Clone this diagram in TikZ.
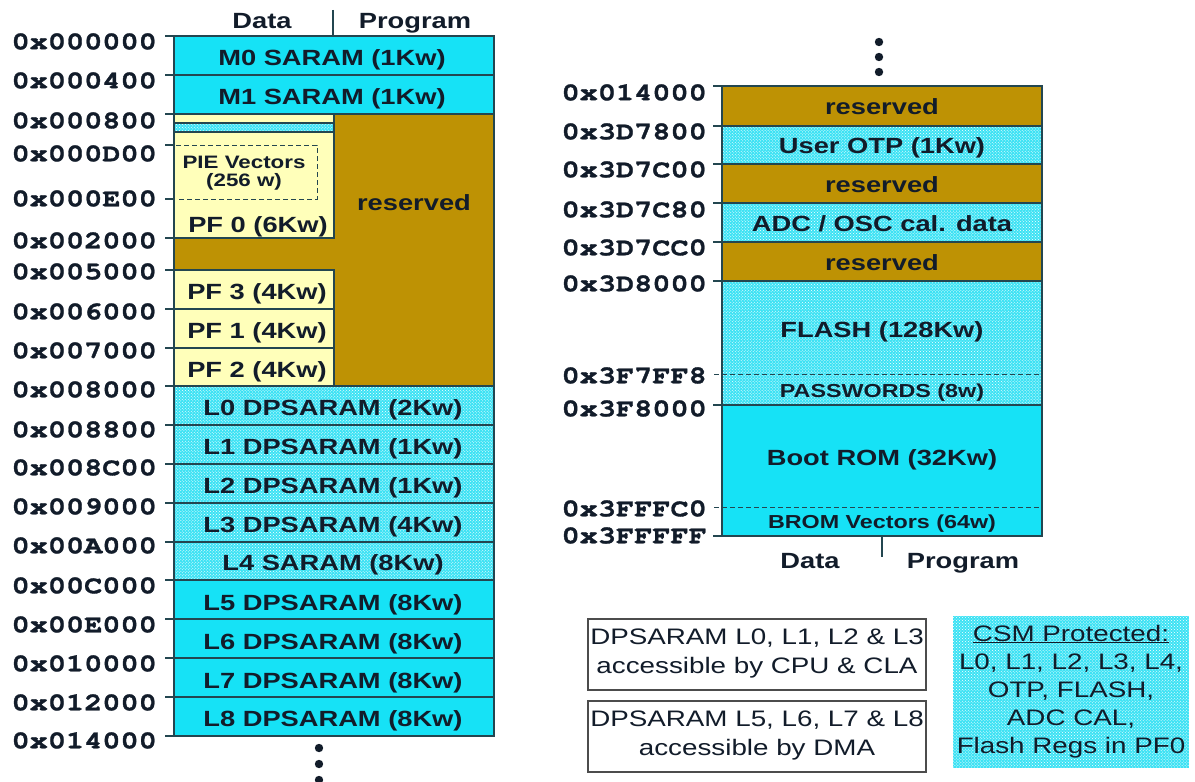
\documentclass[tikz,border=0pt]{standalone}
\usepackage{fontspec}
\usetikzlibrary{patterns}
\setmainfont{Liberation Sans}
\newfontfamily\sansX[FakeStretch=1.24]{Liberation Sans}
\newfontfamily\cursorX[FakeStretch=1.21,FakeBold=1.3]{texgyrecursor-bold.otf}
\newcommand\mylblfont{\sansX\bfseries\fontsize{22bp}{26bp}\selectfont}
\newcommand\mylblsmall{\sansX\bfseries\fontsize{18.8bp}{22bp}\selectfont}
\newcommand\mypiefont{\sansX\bfseries\fontsize{18bp}{21bp}\selectfont}
\newcommand\mynotefont{\sansX\fontsize{22.4bp}{27bp}\selectfont}
\newcommand\myaddrfont{\cursorX\fontsize{25bp}{28bp}\selectfont}
\definecolor{cyS}{RGB}{22,226,246}
\definecolor{cyP}{RGB}{60,226,244}
\definecolor{gold}{RGB}{190,146,4}
\definecolor{yel}{RGB}{255,255,186}
\definecolor{edge}{RGB}{35,70,80}
\definecolor{ink}{RGB}{18,28,42}
\tikzset{
 addr/.style={font=\myaddrfont, anchor=east, text=ink, inner sep=0pt, text height=14.5bp, text depth=0pt},
 lbl/.style={font=\mylblfont, text=ink, inner sep=0pt, text height=15.8bp, text depth=0pt},
 lbls/.style={font=\mylblsmall, text=ink, inner sep=0pt, text height=13.5bp, text depth=0pt},
 lblpie/.style={font=\mypiefont, text=ink, inner sep=0pt, text height=12.9bp, text depth=0pt},
 note/.style={font=\mynotefont, text=ink, inner sep=0pt, text height=16.1bp, text depth=0pt},
 tick/.style={draw=edge, line width=1.2bp},
 edgeln/.style={draw=edge, line width=1.4bp},
 pat/.style={fill=cyP, postaction={pattern=crosshatch dots, pattern color=white}},
 solid cy/.style={fill=cyS},
 dashln/.style={draw=edge, line width=1bp, dash pattern=on 5bp off 3bp},
 notebox/.style={draw=black!70, line width=1.6bp, fill=white},
}
\begin{document}
\begin{tikzpicture}[x=1bp,y=-1bp]
\useasboundingbox[fill=white] (0,0) rectangle (1195,782);

% ---------------- left column fills ----------------
\path[solid cy] (174,36) rectangle (494,114);
\path[fill=yel] (174,114) rectangle (334,238);
\path[pat] (174,123) rectangle (334,132);
\path[fill=gold] (334,114) -- (494,114) -- (494,386) -- (334,386) -- (334,270)
  -- (174,270) -- (174,238) -- (334,238) -- cycle;
\path[fill=yel] (174,270) rectangle (334,386);
\path[pat] (174,386) rectangle (494,580);
\path[solid cy] (174,580) rectangle (494,736);

% left column lines
\draw[edgeln] (174,36) rectangle (494,736);
\foreach \yy in {75,114,386,425,464,503,542,580,619,658,697}
  \draw[edgeln] (174,\yy) -- (494,\yy);
\draw[edgeln] (174,123) -- (334,123) (174,132) -- (334,132);
\draw[edgeln] (334,114) -- (334,238) -- (174,238);
\draw[edgeln] (174,270) -- (334,270) -- (334,386);
\draw[edgeln] (174,309) -- (334,309) (174,348) -- (334,348);
\draw[dashln] (176,145) -- (317,145) -- (317,199) -- (176,199);

% header left
\node[lbl] (hdataL) at (262,21) {Data};
\node[lbl] (hprogL) at (415,21) {Program};
\draw[edgeln] (333,10) -- (333,36);

% left texts
\node[lbl] (m0) at (332,58) {M0 SARAM (1Kw)};
\node[lbl] (m1) at (332,97) {M1 SARAM (1Kw)};
\node[lblpie] (pie1) at (244,162) {PIE Vectors};
\node[lblpie] (pie2) at (244,180) {(256 w)};
\node[lbl] (pf0) at (258,225) {PF 0 (6Kw)};
\node[lbl] (resL) at (414,203) {reserved};
\node[lbl] (pf3) at (257,292) {PF 3 (4Kw)};
\node[lbl] (pf1) at (257,331) {PF 1 (4Kw)};
\node[lbl] (pf2) at (257,370) {PF 2 (4Kw)};
\node[lbl] (l0) at (333,408) {L0 DPSARAM (2Kw)};
\node[lbl] (l1) at (333,447) {L1 DPSARAM (1Kw)};
\node[lbl] (l2) at (333,486) {L2 DPSARAM (1Kw)};
\node[lbl] (l3) at (333,525) {L3 DPSARAM (4Kw)};
\node[lbl] (l4) at (333,563) {L4 SARAM (8Kw)};
\node[lbl] (l5) at (333,603) {L5 DPSARAM (8Kw)};
\node[lbl] (l6) at (333,642) {L6 DPSARAM (8Kw)};
\node[lbl] (l7) at (333,681) {L7 DPSARAM (8Kw)};
\node[lbl] (l8) at (333,719) {L8 DPSARAM (8Kw)};

% left addresses
\foreach \a/\t/\l in {0x000000/36/42,0x000400/75/81,0x000800/114/121,0x000D00/145/154,
  0x000E00/199/199,0x002000/238/241,0x005000/270/272,0x006000/309/312,0x007000/348/351,
  0x008000/386/390,0x008800/425/430,0x008C00/464/468,0x009000/503/507,0x00A000/542/546,
  0x00C000/580/586,0x00E000/619/625,0x010000/658/664,0x012000/697/703,0x014000/736/741}{
  \node[addr] (la-\a) at (157,\l) {\a};
  \draw[tick] (165,\t) -- (174,\t);
}

% dots below left column
\fill[ink] (319,748) circle (4.2) (319,764) circle (4.2) (319,780) circle (4.2);

% ---------------- right column ----------------
\path[fill=gold] (722,86) rectangle (1042,126);
\path[pat] (722,126) rectangle (1042,164);
\path[fill=gold] (722,164) rectangle (1042,203);
\path[pat] (722,203) rectangle (1042,242);
\path[fill=gold] (722,242) rectangle (1042,281);
\path[pat] (722,281) rectangle (1042,405);
\path[solid cy] (722,405) rectangle (1042,536);
\draw[edgeln] (722,86) rectangle (1042,536);
\foreach \yy in {126,164,203,242,281,405}
  \draw[edgeln] (722,\yy) -- (1042,\yy);
\draw[dashln] (714,374) -- (1042,374);
\draw[dashln] (714,507) -- (1042,507);

\node[lbl] (r1) at (882,107) {reserved};
\node[lbl] (otp) at (882,146) {User OTP (1Kw)};
\node[lbl] (r2) at (882,185) {reserved};
\node[lbl] (adc) at (882,224) {ADC / OSC cal. data};
\node[lbl] (r3) at (882,263) {reserved};
\node[lbl] (flash) at (882,330) {FLASH (128Kw)};
\node[lbls] (pw) at (882,391) {PASSWORDS (8w)};
\node[lbl] (boot) at (882,458) {Boot ROM (32Kw)};
\node[lbls] (brom) at (882,522) {BROM Vectors (64w)};

\foreach \a/\t/\l in {0x014000/86/93,0x3D7800/126/132,0x3D7C00/164/170,0x3D7C80/203/210,
  0x3D7CC0/242/248,0x3D8000/281/284,0x3F8000/405/409,0x3FFFFF/536/536}{
  \node[addr] (ra-\a) at (707,\l) {\a};
  \draw[tick] (713,\t) -- (722,\t);
}
\node[addr] (ra-0x3F7FF8) at (707,376) {0x3F7FF8};
\node[addr] (ra-0x3FFFC0) at (707,509) {0x3FFFC0};

\fill[ink] (879,42) circle (4.2) (879,57) circle (4.2) (879,72) circle (4.2);

\node[lbl] (hdataR) at (810,561) {Data};
\node[lbl] (hprogR) at (963,561) {Program};
\draw[edgeln] (882,536) -- (882,557);

% ---------------- notes ----------------
\path[notebox] (588,619) rectangle (926,690);
\node[note] (n1a) at (757,636) {DPSARAM L0, L1, L2 \& L3};
\node[note] (n1b) at (757,665) {accessible by CPU \& CLA};
\path[notebox] (588,701) rectangle (926,772);
\node[note] (n2a) at (757,718) {DPSARAM L5, L6, L7 \& L8};
\node[note] (n2b) at (757,747) {accessible by DMA};

\path[pat] (953,616) rectangle (1189,768);
\node[note] (c1) at (1071,633) {\underline{CSM Protected:}};
\node[note] (c2) at (1071,661) {L0, L1, L2, L3, L4,};
\node[note] (c3) at (1071,689) {OTP, FLASH,};
\node[note] (c4) at (1071,717) {ADC CAL,};
\node[note] (c5) at (1071,745) {Flash Regs in PF0};
\end{tikzpicture}
\end{document}
